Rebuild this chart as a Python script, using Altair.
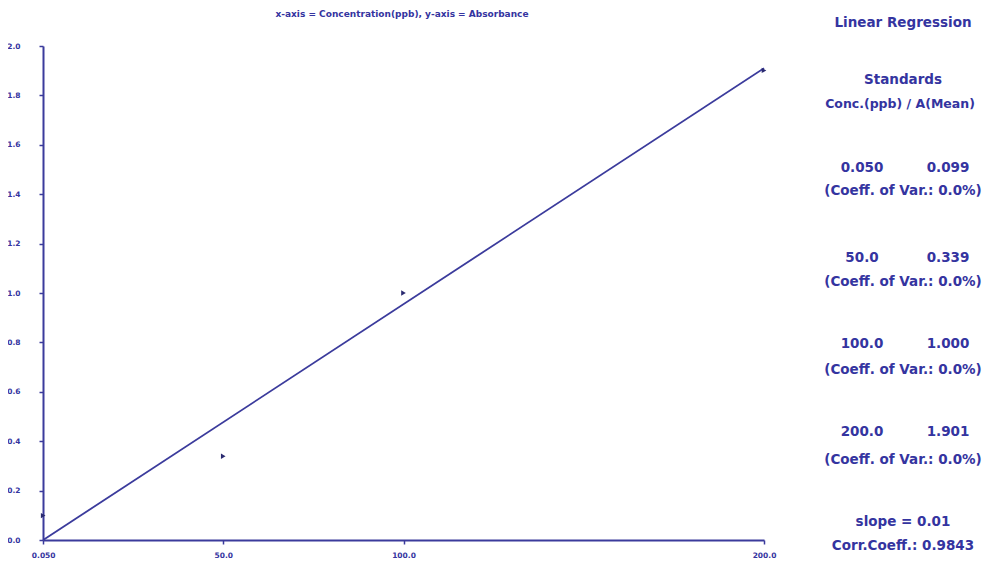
import altair as alt
import pandas as pd

# Standards (concentration ppb / absorbance mean)
conc = [0.05, 50.0, 100.0, 200.0]
absorb = [0.099, 0.339, 1.000, 1.901]
conc_labels = ["0.050", "50.0", "100.0", "200.0"]
abs_labels = ["0.099", "0.339", "1.000", "1.901"]
cv_labels = ["(Coeff. of Var.: 0.0%)"] * 4

# Regression line end points
line_x = [0.05, 200.0]
line_y = [0.0, 1.91]

y_ticks = [0.0, 0.2, 0.4, 0.6, 0.8, 1.0, 1.2, 1.4, 1.6, 1.8, 2.0]
x_ticks = [0.05, 50.0, 100.0, 200.0]

title_text = "x-axis = Concentration(ppb), y-axis = Absorbance"
panel_title = "Linear Regression"
panel_head1 = "Standards"
panel_head2 = "Conc.(ppb) / A(Mean)"
slope_text = "slope = 0.01"
corr_text = "Corr.Coeff.: 0.9843"

NAVY = "#3b3b9c"
TEXT = "#3434a0"
FONT = "DejaVu Sans"

W, H = 721, 494

pts = pd.DataFrame({"x": conc, "y": absorb})
ln = pd.DataFrame({"x": line_x, "y": line_y})

xscale = alt.Scale(domain=[0, 200], nice=False, zero=False)
yscale = alt.Scale(domain=[0, 2.0], nice=False)

xaxis = alt.Axis(values=x_ticks, labelExpr="datum.value < 1 ? format(datum.value, '.3f') : format(datum.value, '.1f')",
                 title=None, grid=False, domainColor=NAVY, domainWidth=2, tickColor=NAVY, tickSize=4,
                 tickWidth=1.5, labelColor=TEXT, labelFont=FONT, labelFontSize=7.5, labelFontWeight="bold",
                 labelPadding=7, labelFlush=False)
yaxis = alt.Axis(values=y_ticks, format=".1f", title=None, grid=False, domainColor=NAVY, domainWidth=2,
                 tickColor=NAVY, tickSize=4, tickWidth=1.5, labelColor=TEXT, labelFont=FONT, labelFontSize=7.5,
                 labelFontWeight="bold", labelPadding=19)

line = alt.Chart(ln).mark_line(color=NAVY, strokeWidth=1.8).encode(
    x=alt.X("x:Q", scale=xscale, axis=xaxis),
    y=alt.Y("y:Q", scale=yscale, axis=yaxis),
)
points = alt.Chart(pts).mark_point(shape="triangle-right", filled=True, size=28, color="#2a2a70", opacity=1).encode(
    x=alt.X("x:Q", scale=xscale),
    y=alt.Y("y:Q", scale=yscale),
)

# Text panel (pixel positions relative to plot area)
def txt(s, x, y, size=13.5, weight="bold", align="center"):
    return alt.Chart(pd.DataFrame({"t": [s]})).mark_text(
        font=FONT, fontSize=size, fontWeight=weight, color=TEXT, align=align, baseline="middle"
    ).encode(text="t:N", x=alt.value(x), y=alt.value(y))

layers = [line, points]
layers.append(txt(title_text, 359, -32, size=9, weight="bold"))
layers.append(txt(panel_title, 860, -23))
layers.append(txt(panel_head1, 860, 34))
layers.append(txt(panel_head2, 857, 58, size=12.5))
pair_y = [122, 212, 298, 386]
cv_y = [145, 236, 324, 414]
for i in range(4):
    layers.append(txt(conc_labels[i], 819, pair_y[i]))
    layers.append(txt(abs_labels[i], 905, pair_y[i]))
    layers.append(txt(cv_labels[i], 860, cv_y[i]))
layers.append(txt(slope_text, 860, 476))
layers.append(txt(corr_text, 860, 500))

chart = alt.layer(*layers).properties(
    width=W, height=H,
    autosize=alt.AutoSizeParams(type="none"),
    padding={"left": 35, "top": 38, "right": 221, "bottom": 20},
    background="white",
).configure_view(stroke=None)

chart.save("out.html", embed_options={"renderer": "svg", "actions": False})
